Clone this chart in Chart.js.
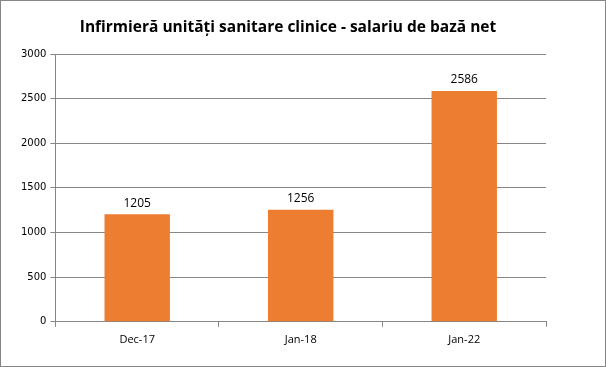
<!DOCTYPE html>
<html>
<head>
<meta charset="utf-8">
<script src="https://cdn.jsdelivr.net/npm/chart.js@4"></script>
<style>
  html, body { margin: 0; padding: 0; background: #fff; }
  #wrap { width: 604px; height: 365px; border: 1px solid #868686; }
</style>
</head>
<body>
<div id="wrap"><canvas id="barChart" width="604" height="365"></canvas></div>
<script>
const titleText = 'Infirmieră unități sanitare clinice - salariu de bază net';
const categories = ['Dec-17', 'Jan-18', 'Jan-22'];
const salaryValues = [1205, 1256, 2586];
const yTicks = [0, 500, 1000, 1500, 2000, 2500, 3000];

// value labels above each bar
const barLabels = {
    id: 'barLabels',
    afterDatasetsDraw(chart) {
        const ctx = chart.ctx;
        const meta = chart.getDatasetMeta(0);
        ctx.save();
        ctx.font = '12px "Open Sans", sans-serif';
        ctx.fillStyle = '#000';
        ctx.textAlign = 'center';
        ctx.textBaseline = 'bottom';
        meta.data.forEach((bar, i) => {
            ctx.fillText(salaryValues[i], bar.x, bar.y - 5);
        });
        ctx.restore();
    }
};

// chart title
const chartTitle = {
    id: 'chartTitle',
    afterDraw(chart) {
        const ctx = chart.ctx;
        ctx.save();
        ctx.font = 'bold 15.5px "Open Sans", sans-serif';
        ctx.fillStyle = '#000';
        ctx.textAlign = 'center';
        ctx.textBaseline = 'middle';
        ctx.fillText(titleText, 287, 27);
        ctx.restore();
    }
};

const barCtx = document.getElementById('barChart');
new Chart(barCtx, {
    type: 'bar',
    data: {
        labels: categories,
        datasets: [{
            data: salaryValues,
            backgroundColor: '#ED7D31',
            categoryPercentage: 1,
            barPercentage: 0.4
        }]
    },
    options: {
        responsive: false,
        animation: false,
        layout: {
            padding: { top: 53, right: 59, left: 16, bottom: 14 }
        },
        plugins: {
            legend: { display: false },
            tooltip: { enabled: false }
        },
        scales: {
            x: {
                grid: {
                    offset: true,
                    drawOnChartArea: false,
                    color: '#868686',
                    tickLength: 5
                },
                border: { color: '#868686' },
                ticks: {
                    color: '#000',
                    font: { family: '"Open Sans", sans-serif', size: 11 },
                    padding: 6
                }
            },
            y: {
                min: 0,
                max: 3000,
                afterBuildTicks(axis) {
                    axis.ticks = yTicks.map(v => ({ value: v }));
                },
                grid: {
                    color: '#868686',
                    tickLength: 5
                },
                border: { color: '#868686' },
                ticks: {
                    color: '#000',
                    font: { family: '"DejaVu Sans", sans-serif', size: 10 },
                    padding: 4,
                    callback: v => String(v)
                }
            }
        }
    },
    plugins: [barLabels, chartTitle]
});
</script>
</body>
</html>
